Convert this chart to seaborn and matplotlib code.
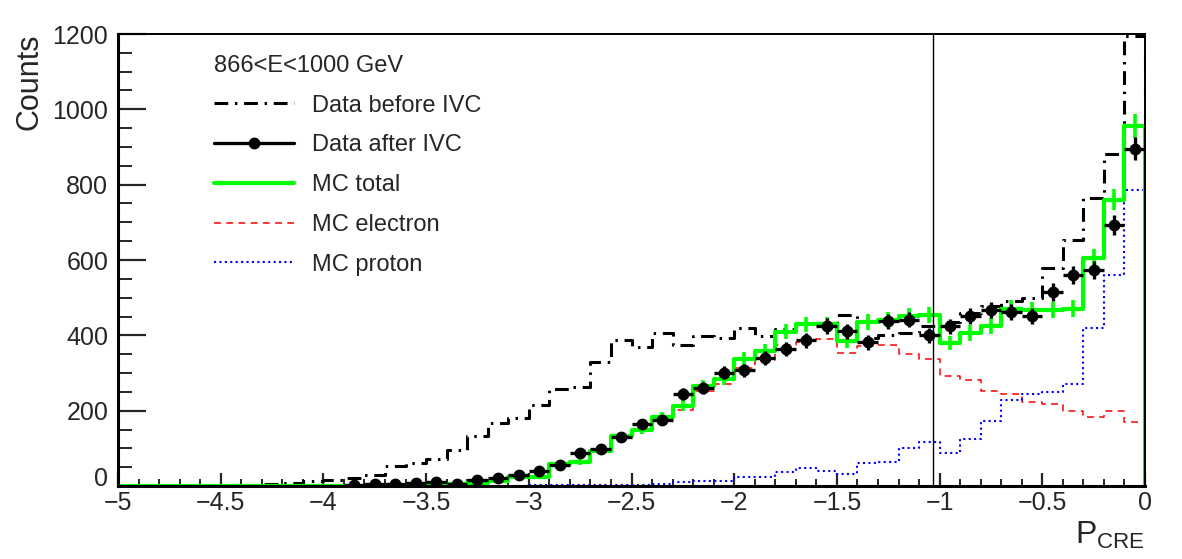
import numpy as np
import pandas as pd
import matplotlib
matplotlib.use("Agg")
import matplotlib.pyplot as plt
import seaborn as sns
from matplotlib.lines import Line2D
from matplotlib.ticker import MultipleLocator, FixedLocator, FixedFormatter
from matplotlib.transforms import ScaledTranslation

# ---------------- data ----------------
x_min, x_max, bin_width = -5.0, 0.0, 0.1
n_bins = 50

before_ivc = [0, 0, 0, 0, 0, 2, 3, 5, 8, 12,
              16, 20, 28, 53, 60, 73, 96, 133, 167, 180,
              216, 258, 263, 330, 388, 369, 407, 375, 398, 392,
              420, 398, 418, 432, 434, 453, 392, 402, 407, 425,
              435, 458, 478, 492, 500, 578, 652, 764, 881, 1194]

after_ivc = [0, 0, 0, 0, 0, 0, 0, 0, 0, 0,
             0, 3, 5, 4, 9, 10, 5, 16, 22, 30,
             39, 57, 88, 99, 131, 165, 176, 245, 261, 301,
             307, 339, 363, 387, 425, 411, 381, 437, 442, 400,
             424, 451, 467, 461, 451, 515, 560, 573, 692, 896]

mc_total = [0, 0, 0, 0, 0, 0, 0, 0, 0, 0,
            0, 1, 1, 2, 2, 3, 4, 8, 13, 24,
            25, 58, 63, 92, 132, 149, 183, 213, 265, 284,
            337, 358, 410, 429, 429, 386, 435, 440, 452, 454,
            380, 406, 425, 471, 468, 468, 471, 604, 760, 956]

mc_electron = [0, 0, 0, 0, 0, 0, 0, 0, 0, 0,
               0, 1, 1, 2, 2, 3, 4, 7, 12, 23,
               23, 56, 61, 90, 129, 146, 179, 203, 253, 271,
               312, 335, 374, 381, 389, 354, 373, 375, 350, 336,
               293, 282, 252, 243, 223, 219, 199, 184, 200, 171]

mc_proton = [0, 0, 0, 0, 0, 0, 0, 0, 0, 0,
             0, 0, 0, 0, 0, 0, 0, 1, 1, 1,
             2, 2, 2, 2, 3, 3, 4, 10, 12, 13,
             25, 23, 36, 48, 40, 32, 62, 65, 102, 118,
             87, 124, 173, 228, 245, 249, 272, 420, 560, 785]

cut_value = -1.03
energy_label = "866<E<1000 GeV"
legend_labels = ["Data before IVC", "Data after IVC", "MC total", "MC electron", "MC proton"]
xtick_values = [-5, -4.5, -4, -3.5, -3, -2.5, -2, -1.5, -1, -0.5, 0]
xtick_labels = ["\u22125", "\u22124.5", "\u22124", "\u22123.5", "\u22123", "\u22122.5",
                "\u22122", "\u22121.5", "\u22121", "\u22120.5", "0"]
ytick_values = [0, 200, 400, 600, 800, 1000, 1200]
ytick_labels = ["0", "200", "400", "600", "800", "1000", "1200"]

# ---------------- style ----------------
sns.set_style("ticks")
plt.rcParams["font.family"] = ["Liberation Sans", "DejaVu Sans"]
plt.rcParams["mathtext.fontset"] = "custom"
plt.rcParams["mathtext.rm"] = "Liberation Sans"
plt.rcParams["mathtext.it"] = "Liberation Sans"

W, H = 1182, 559
fig = plt.figure(figsize=(W / 100, H / 100), dpi=100)
ax_l, ax_r, ax_b, ax_t = 118, 1145, 486, 34
ax = fig.add_axes([ax_l / W, 1 - ax_b / H, (ax_r - ax_l) / W, (ax_b - ax_t) / H])

centers = x_min + bin_width * (np.arange(n_bins) + 0.5)
# one extra (empty) bin after the last so the outline drops to zero at x=0
hist_edges = [float(e) for e in x_min + bin_width * np.arange(n_bins + 2)]

def step(vals, **kw):
    df = pd.DataFrame({"p": centers, "w": np.asarray(vals, float)})
    sns.histplot(data=df, x="p", weights="w", bins=hist_edges,
                 element="step", fill=False, ax=ax, **kw)

dashdot = (0, (4.5, 2.2, 0.8, 2.2))
step(before_ivc, color="black", linewidth=2.2, linestyle=dashdot)
step(mc_electron, color="#ff0000", linewidth=1.1, linestyle=(0, (4.5, 3.5)))
step(mc_proton, color="#0000ff", linewidth=1.5, linestyle=(0, (1, 1.6)))
step(mc_total, color="#00ff00", linewidth=3.0)

tot = np.asarray(mc_total, float)
mt = tot > 0
ax.errorbar(centers[mt], tot[mt], yerr=np.sqrt(tot[mt]), fmt="none",
            ecolor="#00ff00", elinewidth=2.6, capsize=0, zorder=4)

aft = np.asarray(after_ivc, float)
ma = aft > 0
ax.errorbar(centers[ma], aft[ma], yerr=np.sqrt(aft[ma]), xerr=bin_width / 2,
            fmt="o", color="black", markersize=7.5, elinewidth=2.4, capsize=0, zorder=5)

ax.axvline(cut_value, color="black", linewidth=1.0, zorder=3)

ax.set_xlim(x_min, x_max)
ax.set_ylim(0, 1200)
ax.set_xlabel("")
ax.set_ylabel("")

ax.xaxis.set_major_locator(FixedLocator(xtick_values))
ax.xaxis.set_major_formatter(FixedFormatter(xtick_labels))
ax.xaxis.set_minor_locator(MultipleLocator(0.1))
ax.yaxis.set_major_locator(FixedLocator(ytick_values))
ax.yaxis.set_major_formatter(FixedFormatter(ytick_labels))
ax.yaxis.set_minor_locator(MultipleLocator(50))

ax.tick_params(axis="x", which="major", direction="in", length=9.5, width=1.6,
               labelsize=18, pad=3.5, top=False)
ax.tick_params(axis="x", which="minor", direction="in", length=5, width=1.4, top=False)
ax.tick_params(axis="y", which="major", direction="in", length=20, width=1.6,
               labelsize=18, pad=7, right=False)
ax.tick_params(axis="y", which="minor", direction="in", length=10, width=1.4, right=False)
for s in ax.spines.values():
    s.set_linewidth(1.4)
    s.set_color("black")
ax.spines["bottom"].set_linewidth(2.2)
ax.spines["left"].set_linewidth(2.2)

# lift the y "0" label slightly so it does not collide with the x "-5" label
zero_lbl = ax.yaxis.get_major_ticks()[0].label1
zero_lbl.set_transform(zero_lbl.get_transform() + ScaledTranslation(0, 0.09, fig.dpi_scale_trans))

ax.set_ylabel("Counts", fontsize=22, loc="top")
ax.yaxis.set_label_coords(-0.072, 1.0)
ax.set_xlabel(r"$\mathrm{P_{CRE}}$", fontsize=23, loc="right")
ax.xaxis.set_label_coords(1.0, -0.074)

handles = [
    Line2D([], [], color="black", linewidth=2.2, linestyle=dashdot),
    Line2D([], [], color="black", linewidth=2.4, marker="o", markersize=7.5),
    Line2D([], [], color="#00ff00", linewidth=3.0),
    Line2D([], [], color="#ff0000", linewidth=1.1, linestyle=(0, (4.5, 3.5))),
    Line2D([], [], color="#0000ff", linewidth=1.5, linestyle=(0, (1, 1.6))),
]
leg = ax.legend(handles, legend_labels, title=energy_label, loc="upper left",
                bbox_to_anchor=(214 / W, 1 - 55 / H), bbox_transform=fig.transFigure,
                frameon=False, fontsize=17, title_fontsize=17, numpoints=1,
                handlelength=3.4, handletextpad=0.75, labelspacing=0.75,
                borderpad=0, borderaxespad=0, alignment="left")

fig.savefig("out.png", dpi=100)
